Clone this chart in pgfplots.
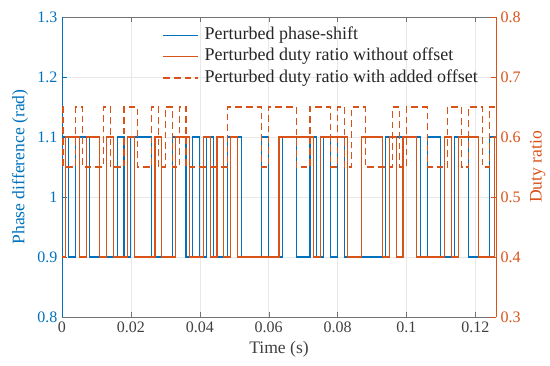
\documentclass[border=0pt]{standalone}
\usepackage{pgfplots}
\pgfplotsset{compat=1.18}
\usepackage{fontspec}
\setmainfont{Liberation Serif}
\definecolor{mblue}{rgb}{0,0.447,0.741}
\definecolor{mred}{rgb}{0.85,0.325,0.098}
\begin{document}
\begin{tikzpicture}
\begin{axis}[name=ax,
  scale only axis, width=325.5pt, height=225pt,
  xmin=0, xmax=0.126, ymin=0.8, ymax=1.3,
  xtick={0,0.02,0.04,0.06,0.08,0.1,0.12},
  xticklabels={0,0.02,0.04,0.06,0.08,0.1,0.12},
  ytick={0.8,0.9,1,1.1,1.2,1.3},
  yticklabels={0.8,0.9,1,1.1,1.2,1.3},
  axis y line*=left, axis x line*=box,
  x axis line style={draw=black!55},
  y axis line style={draw=mblue},
  yticklabel style={text=mblue},
  ytick style={draw=mblue},
  xtick style={draw=black!55},
  tick align=inside, major tick length=4pt,
  grid=major, grid style={draw=gray!18, line width=0.4pt},
  xlabel={Time (s)}, ylabel={Phase difference (rad)},
  ylabel style={text=mblue, font=\fontsize{13.2}{15}\selectfont},
  xlabel style={text=black!75, font=\fontsize{13.2}{15}\selectfont},
  ticklabel style={font=\fontsize{12}{14}\selectfont},
  xticklabel style={text=black!75},
]
\addplot[const plot, color=mblue, line width=0.8pt] coordinates {
(0,1.1) (0.002,0.9) (0.004,1.1) (0.008,0.9) (0.016,1.1) (0.018,0.9) (0.020,1.1) (0.026,0.9) (0.032,1.1) (0.036,0.9) (0.038,1.1) (0.040,0.9) (0.042,1.1) (0.044,0.9) (0.048,1.1) (0.052,0.9) (0.058,1.1) (0.060,0.9) (0.064,1.1) (0.068,0.9) (0.072,1.1) (0.074,0.9) (0.076,1.1) (0.078,0.9) (0.080,1.1) (0.082,0.9) (0.094,1.1) (0.104,0.9) (0.106,1.1) (0.110,0.9) (0.114,1.1) (0.118,0.9) (0.124,1.1) (0.126,1.1)
};
\end{axis}
\begin{axis}[
  scale only axis, width=325.5pt, height=225pt,
  xmin=0, xmax=0.126, ymin=0.3, ymax=0.8,
  axis x line=none, axis y line*=right,
  ytick={0.3,0.4,0.5,0.6,0.7,0.8},
  yticklabels={0.3,0.4,0.5,0.6,0.7,0.8},
  y axis line style={draw=mred},
  yticklabel style={text=mred},
  ytick style={draw=mred},
  tick align=inside, major tick length=4pt,
  ylabel={Duty ratio},
  ylabel style={text=mred, font=\fontsize{13.2}{15}\selectfont},
  ticklabel style={font=\fontsize{12}{14}\selectfont},
  legend style={draw=none, fill=none, inner sep=0pt, at={(0.232,0.972)}, anchor=north west,
    font=\fontsize{13.5}{15}\selectfont, text=black!85, row sep=1.5pt, column sep=2pt,
    nodes={inner ysep=0.5pt, inner xsep=2.5pt, text height=10pt, text depth=3.5pt}},
  legend cell align=left,
]
\addlegendimage{legend image code/.code={\draw[draw=mblue, line width=0.8pt] (0pt,0pt) -- (26pt,0pt);}}
\addlegendentry{Perturbed phase-shift}
\addlegendimage{legend image code/.code={\draw[draw=mred, line width=0.8pt] (0pt,0pt) -- (26pt,0pt);}}
\addlegendentry{Perturbed duty ratio without offset}
\addlegendimage{legend image code/.code={\draw[draw=mred, line width=0.8pt, dash pattern=on 5pt off 3pt] (0pt,0pt) -- (26pt,0pt);}}
\addlegendentry{Perturbed duty ratio with added offset}
\addplot[const plot, color=mred, line width=0.8pt, forget plot] coordinates {
(0,0.4) (0.001,0.6) (0.005,0.4) (0.007,0.6) (0.011,0.4) (0.013,0.6) (0.015,0.4) (0.019,0.6) (0.021,0.4) (0.027,0.6) (0.029,0.4) (0.033,0.6) (0.037,0.4) (0.041,0.6) (0.043,0.4) (0.045,0.6) (0.047,0.4) (0.049,0.6) (0.051,0.4) (0.063,0.6) (0.073,0.4) (0.075,0.6) (0.083,0.4) (0.087,0.6) (0.093,0.4) (0.095,0.6) (0.097,0.4) (0.099,0.6) (0.103,0.4) (0.111,0.6) (0.113,0.4) (0.115,0.6) (0.121,0.4) (0.1255,0.6) (0.126,0.6)
};
\addplot[const plot, color=mred, line width=0.8pt, dash pattern=on 5pt off 3pt, forget plot] coordinates {
(0,0.65) (0.0003,0.55) (0.004,0.65) (0.006,0.55) (0.012,0.65) (0.014,0.55) (0.018,0.65) (0.022,0.55) (0.026,0.65) (0.028,0.55) (0.030,0.65) (0.032,0.55) (0.034,0.65) (0.036,0.55) (0.048,0.65) (0.058,0.55) (0.060,0.65) (0.068,0.55) (0.072,0.65) (0.078,0.55) (0.080,0.65) (0.082,0.55) (0.084,0.65) (0.088,0.55) (0.096,0.65) (0.098,0.55) (0.100,0.65) (0.106,0.55) (0.112,0.65) (0.116,0.55) (0.118,0.65) (0.122,0.55) (0.124,0.65) (0.126,0.65)
};
\end{axis}
\path ([xshift=-46.5pt,yshift=-36.75pt]ax.south west) rectangle ([xshift=40.5pt,yshift=12.75pt]ax.north east);
\end{tikzpicture}
\end{document}
